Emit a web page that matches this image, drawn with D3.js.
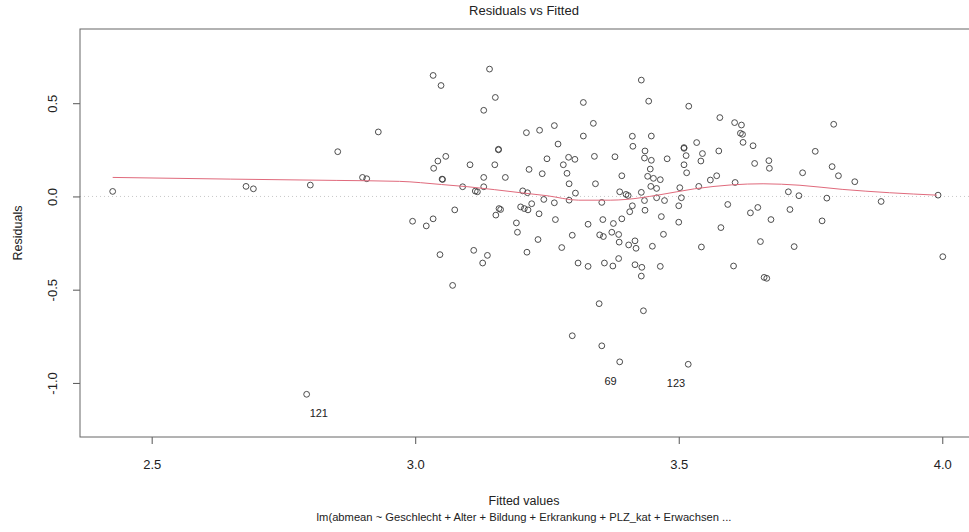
<!DOCTYPE html>
<html>
<head>
<meta charset="utf-8">
<script src="https://cdn.jsdelivr.net/npm/d3@7"></script>
<style>
    body { margin: 0; background: #fff; }
    text { font-family: "Liberation Sans", Arial, sans-serif; fill: #222; }
</style>
</head>
<body>
<svg id="chart" width="969" height="532"></svg>
<script>
// fitted values and residuals
let fitted = [
    2.426, 2.679, 2.693, 2.801, 2.853, 2.930, 2.900, 2.908, 2.794,
    3.034, 3.049, 3.141, 3.152, 3.130, 3.211, 3.236, 3.158, 3.158, 3.058, 3.043,
    3.035, 3.104, 3.151, 3.216, 3.250, 3.241, 3.051, 3.052, 3.130, 3.171,
    3.090, 3.130, 3.114, 3.118, 3.204, 3.213, 3.244, 3.075, 3.159, 3.162,
    3.153, 3.200, 3.207, 3.214, 3.221, 3.235, 2.995, 3.021, 3.034, 3.192,
    3.194, 3.233, 3.047, 3.111, 3.137, 3.128, 3.212, 3.071,
    3.429, 3.319, 3.443, 3.519, 3.264, 3.338, 3.319, 3.412, 3.448, 3.413,
    3.271, 3.534, 3.436, 3.435, 3.448, 3.478, 3.510, 3.510, 3.514, 3.510,
    3.515, 3.291, 3.303, 3.281, 3.340, 3.379, 3.288, 3.392, 3.446,
    3.441, 3.452, 3.465, 3.292, 3.342, 3.304, 3.388, 3.400, 3.404, 3.429,
    3.447, 3.458, 3.502, 3.264, 3.292, 3.354, 3.435, 3.458, 3.473, 3.505,
    3.412, 3.500, 3.407, 3.436, 3.266, 3.356, 3.392, 3.467, 3.328, 3.376,
    3.500, 3.298, 3.350, 3.357, 3.373, 3.386, 3.387, 3.405, 3.417, 3.419,
    3.450, 3.471, 3.278, 3.309, 3.328, 3.359, 3.375, 3.386, 3.417, 3.430,
    3.429, 3.465,
    3.578, 3.606, 3.619, 3.617, 3.621, 3.622, 3.641, 3.794, 3.545, 3.542,
    3.576, 3.644, 3.671, 3.672, 3.759, 3.791, 3.803, 3.735, 3.572, 3.560,
    3.607,
    3.538, 3.708, 3.728, 3.781, 3.593, 3.636, 3.650, 3.711, 3.675, 3.772,
    3.580, 3.543, 3.655, 3.719, 3.604, 3.662, 3.667,
    3.834, 3.884, 3.992, 4.001,
    3.349, 3.433, 3.298, 3.354, 3.388, 3.518
];
let residuals = [
    0.027, 0.054, 0.041, 0.061, 0.240, 0.346, 0.102, 0.095, -1.061,
    0.649, 0.595, 0.683, 0.531, 0.462, 0.342, 0.355, 0.253, 0.250, 0.215, 0.190,
    0.151, 0.170, 0.170, 0.145, 0.202, 0.122, 0.093, 0.091, 0.102, 0.102,
    0.052, 0.052, 0.029, 0.025, 0.030, 0.020, -0.016, -0.072, -0.065, -0.070,
    -0.100, -0.056, -0.065, -0.072, -0.039, -0.093, -0.133, -0.158, -0.120, -0.142,
    -0.192, -0.231, -0.312, -0.289, -0.316, -0.357, -0.299, -0.477,
    0.624, 0.504, 0.511, 0.484, 0.380, 0.392, 0.324, 0.323, 0.324, 0.269,
    0.281, 0.289, 0.244, 0.206, 0.194, 0.202, 0.262, 0.258, 0.219, 0.170,
    0.127, 0.210, 0.199, 0.170, 0.215, 0.213, 0.124, 0.111, 0.147,
    0.108, 0.097, 0.090, 0.068, 0.068, 0.018, 0.025, 0.011, 0.005, 0.022,
    0.054, 0.043, 0.047, -0.034, -0.020, -0.032, -0.022, -0.007, -0.022, -0.007,
    -0.050, -0.050, -0.082, -0.074, -0.124, -0.124, -0.120, -0.108, -0.149, -0.145,
    -0.138, -0.208, -0.206, -0.215, -0.192, -0.204, -0.245, -0.260, -0.238, -0.278,
    -0.267, -0.203, -0.274, -0.357, -0.375, -0.357, -0.373, -0.333, -0.366, -0.380,
    -0.427, -0.375,
    0.423, 0.396, 0.383, 0.339, 0.333, 0.290, 0.272, 0.387, 0.230, 0.190,
    0.244, 0.177, 0.192, 0.151, 0.242, 0.160, 0.111, 0.127, 0.111, 0.088,
    0.075,
    0.054, 0.025, 0.004, -0.009, -0.043, -0.088, -0.059, -0.070, -0.124, -0.131,
    -0.167, -0.271, -0.242, -0.269, -0.373, -0.434, -0.439,
    0.079, -0.027, 0.007, -0.323,
    -0.575, -0.613, -0.747, -0.801, -0.887, -0.900
];

// red smoother
let smoothX = [2.426, 2.65, 2.85, 2.97, 3.05, 3.10, 3.20, 3.25, 3.31, 3.37, 3.40, 3.46, 3.53, 3.60, 3.66, 3.73, 3.81, 3.90, 3.99];
let smoothY = [0.102, 0.093, 0.086, 0.081, 0.064, 0.052, 0.020, 0.004, -0.020, -0.020, -0.016, 0.007, 0.041, 0.062, 0.068, 0.060, 0.038, 0.020, 0.007];

// labelled extreme points
let labelIds = ["121", "69", "123"];
let labelFitted = [2.794, 3.388, 3.518];
let labelResid = [-1.061, -0.887, -0.900];

let xTicks = [2.5, 3.0, 3.5, 4.0];
let yTicks = [-1.0, -0.5, 0.0, 0.5];

let titleText = "Residuals vs Fitted";
let xLabel = "Fitted values";
let subLabel = "lm(abmean ~ Geschlecht + Alter + Bildung + Erkrankung + PLZ_kat + Erwachsen ...";
let yLabel = "Residuals";

let plotLeft = 80, plotRight = 976, plotTop = 29, plotBottom = 437;

let svg = d3.select("#chart");

let xScale = d3.scaleLinear().domain([2.364, 4.064]).range([plotLeft, plotRight]);
let yScale = d3.scaleLinear().domain([-1.290, 0.898]).range([plotBottom, plotTop]);

// zero line
svg.append("line")
    .attr("x1", plotLeft).attr("x2", plotRight)
    .attr("y1", yScale(0)).attr("y2", yScale(0))
    .attr("stroke", "#c8c8c8")
    .attr("stroke-dasharray", "1,3");

// points
let points = fitted.map((f, i) => ({ x: f, y: residuals[i] }));
svg.append("g")
    .selectAll("circle")
    .data(points)
    .join("circle")
    .attr("cx", d => xScale(d.x))
    .attr("cy", d => yScale(d.y))
    .attr("r", 2.9)
    .attr("fill", "none")
    .attr("stroke", "#3a3a3a")
    .attr("stroke-width", 0.9);

// smoother
let smooth = smoothX.map((x, i) => ({ x: x, y: smoothY[i] }));
let lineGen = d3.line()
    .x(d => xScale(d.x))
    .y(d => yScale(d.y))
    .curve(d3.curveMonotoneX);
svg.append("path")
    .datum(smooth)
    .attr("d", lineGen)
    .attr("fill", "none")
    .attr("stroke", "#e06a7c")
    .attr("stroke-width", 1);

// id labels: right of point on left half, left of point on right half
let midX = (xScale.domain()[0] + xScale.domain()[1]) / 2;
svg.append("g")
    .selectAll("text")
    .data(labelIds)
    .join("text")
    .attr("x", (d, i) => xScale(labelFitted[i]) + (labelFitted[i] < midX ? 3 : -3))
    .attr("y", (d, i) => yScale(labelResid[i]) + 23)
    .attr("text-anchor", (d, i) => labelFitted[i] < midX ? "start" : "end")
    .attr("font-size", 11)
    .text(d => d);

// axes
let xAxis = svg.append("g")
    .attr("transform", `translate(0,${plotBottom})`)
    .call(d3.axisBottom(xScale).tickValues(xTicks).tickSize(7).tickPadding(16).tickFormat(d => d.toFixed(1)));
let yAxis = svg.append("g")
    .attr("transform", `translate(${plotLeft},0)`)
    .call(d3.axisLeft(yScale).tickValues(yTicks).tickSize(7).tickFormat(d => d.toFixed(1)));

for (let ax of [xAxis, yAxis]) {
    ax.select(".domain").remove();
    ax.selectAll("line").attr("stroke", "#555");
    ax.selectAll("text").attr("font-size", 13).attr("fill", "#222")
        .style("font-family", "'Liberation Sans', Arial, sans-serif");
}
xAxis.selectAll("text").attr("dy", "0.71em");
// R style: y tick labels run parallel to the axis
yAxis.selectAll(".tick text")
    .attr("text-anchor", "middle")
    .attr("x", null)
    .attr("dy", null)
    .attr("transform", "translate(-23,0) rotate(-90)");

// frame
svg.append("rect")
    .attr("x", plotLeft).attr("y", plotTop)
    .attr("width", plotRight - plotLeft).attr("height", plotBottom - plotTop)
    .attr("fill", "none")
    .attr("stroke", "#666")
    .attr("stroke-width", 1);

// titles
svg.append("text")
    .attr("x", 524).attr("y", 15)
    .attr("text-anchor", "middle")
    .attr("font-size", 13)
    .text(titleText);
svg.append("text")
    .attr("x", 524).attr("y", 505)
    .attr("text-anchor", "middle")
    .attr("font-size", 12.5)
    .text(xLabel);
svg.append("text")
    .attr("x", 524).attr("y", 521)
    .attr("text-anchor", "middle")
    .attr("font-size", 11.2)
    .text(subLabel);
svg.append("text")
    .attr("transform", `translate(22,${(plotTop + plotBottom) / 2}) rotate(-90)`)
    .attr("text-anchor", "middle")
    .attr("font-size", 12.5)
    .text(yLabel);
</script>
</body>
</html>
